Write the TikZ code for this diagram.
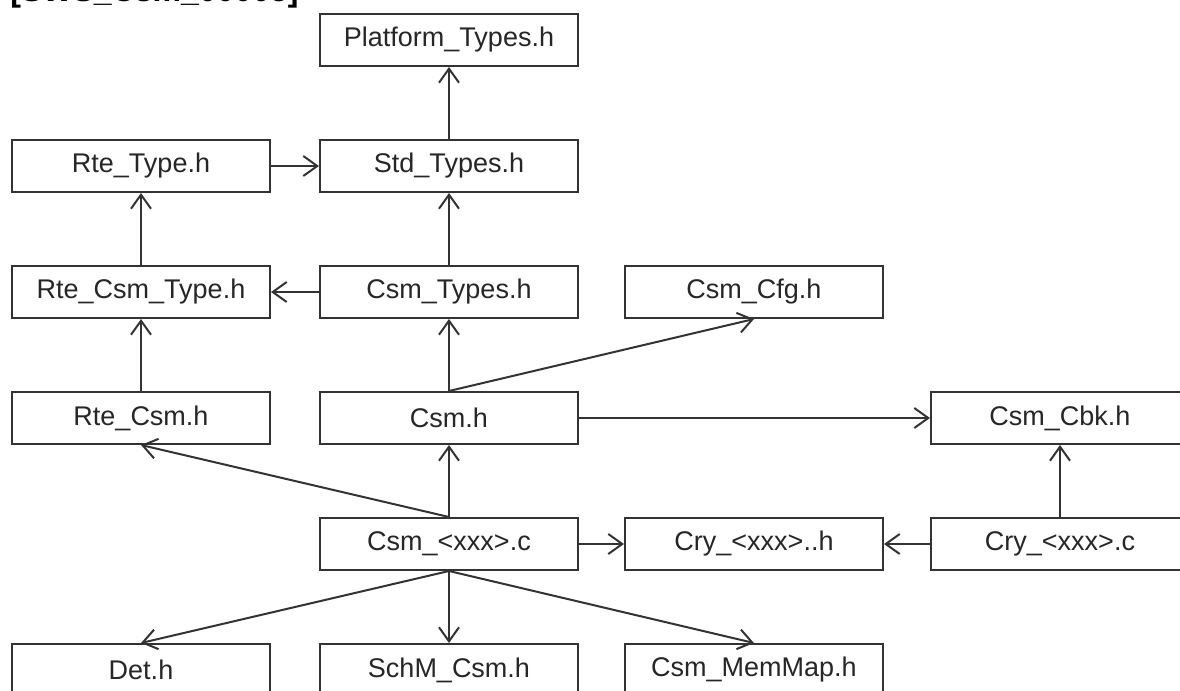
\documentclass[tikz,border=0pt]{standalone}
\usepackage{fontspec}
\setmainfont{Liberation Sans}
\usetikzlibrary{arrows.meta}
\tikzset{
  hdr/.style={draw=black!80, line width=1pt, minimum width=129pt, minimum height=26pt, inner sep=0pt, font=\fontsize{13.5}{15}\selectfont, text=black!85},
  dep/.style={draw=black!80, line width=1pt, -{Straight Barb[length=7pt,width=10pt]}},
}
\begin{document}
\begin{tikzpicture}[x=0.5pt,y=-0.5pt]
\useasboundingbox (0,0) rectangle (1180,691);
\clip (0,0) rectangle (1180,691);
\node[anchor=base west, inner sep=0pt, font=\bfseries\fontsize{16}{18}\selectfont] (req) at (10,1) {[SWS\_Csm\_00005]};
% header files
\node[hdr] (platform) at (449,40) {Platform\_Types.h};
\node[hdr] (rtetype) at (141,166) {Rte\_Type.h};
\node[hdr] (std) at (449,166) {Std\_Types.h};
\node[hdr] (rtecsmtype) at (141,292) {Rte\_Csm\_Type.h};
\node[hdr] (csmtypes) at (449,292) {Csm\_Types.h};
\node[hdr] (cfg) at (754,292) {Csm\_Cfg.h};
\node[hdr] (rtecsm) at (141,418) {Rte\_Csm.h};
\node[hdr] (csmh) at (449,418) {Csm.h};
\node[hdr] (cbk) at (1060,418) {Csm\_Cbk.h};
\node[hdr] (csmc) at (449,544) {Csm\_<xxx>.c};
\node[hdr] (cryh) at (754,544) {Cry\_<xxx>..h};
\node[hdr] (cryc) at (1060,544) {Cry\_<xxx>.c};
\node[hdr] (det) at (141,670) {Det.h};
\node[hdr] (schm) at (449,670) {SchM\_Csm.h};
\node[hdr] (memmap) at (754,670) {Csm\_MemMap.h};
% includes
\draw[dep] (std) -- (platform);
\draw[dep] (rtetype) -- (std);
\draw[dep] (rtecsmtype) -- (rtetype);
\draw[dep] (csmtypes) -- (std);
\draw[dep] (csmtypes) -- (rtecsmtype);
\draw[dep] (csmh) -- (csmtypes);
\draw[dep] (csmh.north) -- (cfg.south);
\draw[dep] (rtecsm) -- (rtecsmtype);
\draw[dep] (csmh) -- (cbk);
\draw[dep] (csmc) -- (csmh);
\draw[dep] (csmc.north) -- (rtecsm.south);
\draw[dep] (csmc) -- (cryh);
\draw[dep] (cryc) -- (cryh);
\draw[dep] (cryc) -- (cbk);
\draw[dep] (csmc.south) -- (det.north);
\draw[dep] (csmc) -- (schm);
\draw[dep] (csmc.south) -- (memmap.north);
\end{tikzpicture}
\end{document}
